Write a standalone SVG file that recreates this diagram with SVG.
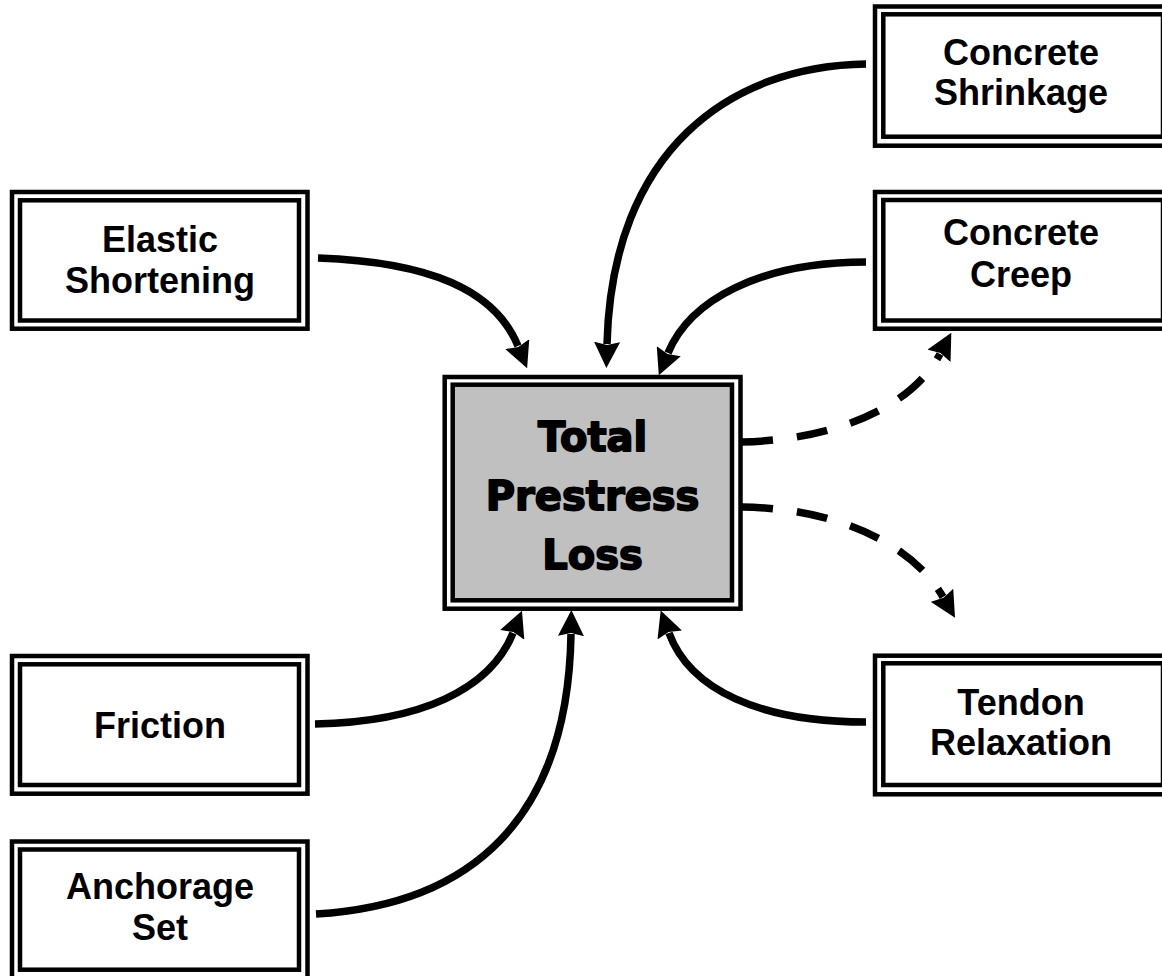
<svg xmlns="http://www.w3.org/2000/svg" width="1162" height="976" viewBox="0 0 1162 976">
<defs>
<marker id="ah" markerUnits="userSpaceOnUse" viewBox="0 0 26 26" markerWidth="26" markerHeight="26" refX="2" refY="13" orient="auto">
<path d="M0,0 L26,13 L0,26 L3,13 z" fill="#000"/>
</marker>
<style>
.o{fill:#fff;stroke:#000;stroke-width:4.5}
.i{fill:none;stroke:#000;stroke-width:4.5}
.c{fill:#c0c0c0;stroke:#000;stroke-width:4.5}
.t{font-family:"Liberation Sans",Arial,sans-serif;font-weight:bold;font-size:36px;fill:#000;text-anchor:middle}
.big{font-family:"DejaVu Sans",sans-serif;font-weight:bold;font-size:40px;fill:#000;stroke:#000;stroke-width:1.8;stroke-linejoin:round;text-anchor:middle}
.l{fill:none;stroke:#000;stroke-width:7.5;marker-end:url(#ah)}
.d{stroke-dasharray:31 24}
</style>
</defs>
<rect width="1162" height="976" fill="#fff"/>
<g id="connectors">
<path class="l" d="M318,258 C430,262 495,290 518,346"/>
<path class="l" d="M866,64 C730,66 612,150 607,344"/>
<path class="l" d="M866,262 C760,262 690,300 668,353"/>
<path class="l d" d="M742,442 C830,440 910,410 940,354"/>
<path class="l d" d="M742,507 C830,508 910,540 943,597"/>
<path class="l" d="M315,724 C420,722 490,690 513,633"/>
<path class="l" d="M316,914 C470,905 568,820 571,634"/>
<path class="l" d="M866,722 C760,722 690,690 669,633"/>
</g>
<g id="total">
<rect class="o" x="444.7" y="377" width="295.8" height="231.7"/>
<rect class="c" x="452.7" y="384.7" width="279.3" height="215.6"/>
<text class="big" x="592.6" y="451">Total</text>
<text class="big" x="592.6" y="510">Prestress</text>
<text class="big" x="592.6" y="569">Loss</text>
</g>
<g id="elastic">
<rect class="o" x="12" y="192" width="295.5" height="136.7"/>
<rect class="i" x="20" y="200.3" width="279" height="120.2"/>
<text class="t" x="160" y="251.5">Elastic</text>
<text class="t" x="160" y="293">Shortening</text>
</g>
<g id="friction">
<rect class="o" x="12" y="656" width="295.5" height="137.7"/>
<rect class="i" x="20" y="664.3" width="279" height="120.7"/>
<text class="t" x="160" y="738">Friction</text>
</g>
<g id="anchorage">
<rect class="o" x="12" y="841.5" width="295.5" height="137"/>
<rect class="i" x="20" y="849.5" width="279" height="120.2"/>
<text class="t" x="160" y="899">Anchorage</text>
<text class="t" x="160" y="940">Set</text>
</g>
<g id="shrinkage">
<rect class="o" x="875" y="6.5" width="296" height="139.2"/>
<rect class="i" x="883.3" y="14.3" width="279.7" height="122.4"/>
<text class="t" x="1021" y="65">Concrete</text>
<text class="t" x="1021" y="105">Shrinkage</text>
</g>
<g id="creep">
<rect class="o" x="875" y="192" width="296" height="136.7"/>
<rect class="i" x="883.3" y="200" width="279.7" height="120.5"/>
<text class="t" x="1021" y="245">Concrete</text>
<text class="t" x="1021" y="287">Creep</text>
</g>
<g id="relaxation">
<rect class="o" x="875" y="655.7" width="296" height="138.6"/>
<rect class="i" x="883.3" y="663.3" width="279.7" height="121.7"/>
<text class="t" x="1021" y="715">Tendon</text>
<text class="t" x="1021" y="755">Relaxation</text>
</g>
</svg>
